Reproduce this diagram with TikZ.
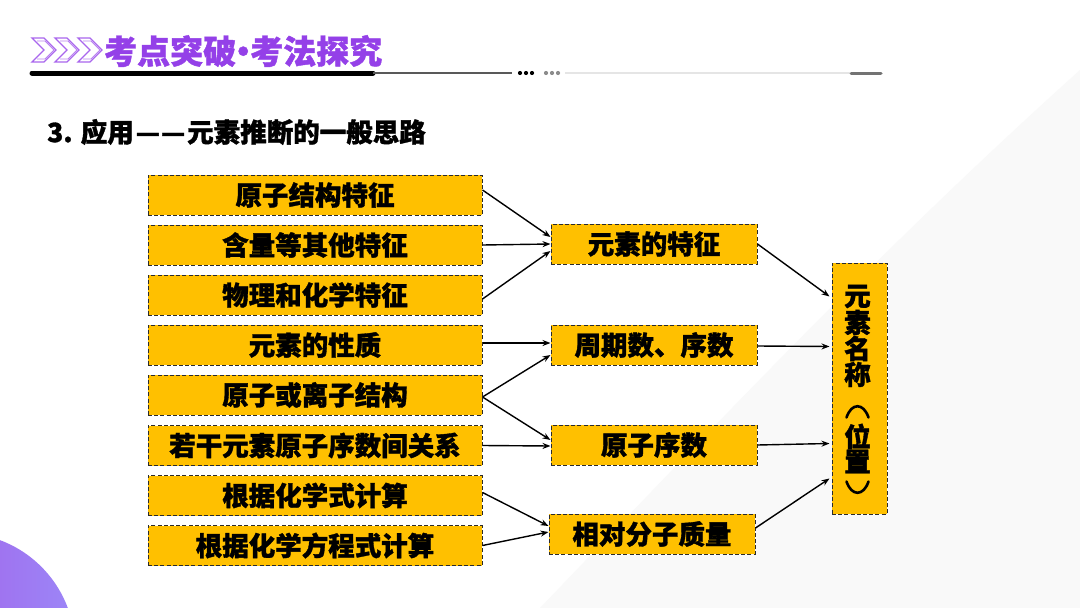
\documentclass[tikz,border=0pt]{standalone}
\usepackage{fontspec}
\setmainfont{Noto Sans CJK SC}[BoldFeatures={FakeBold=1.3}]
\usetikzlibrary{arrows.meta,calc}
\definecolor{amber}{HTML}{FFC000}
\definecolor{titlepurple}{HTML}{9440E8}
\definecolor{edgegray}{HTML}{2B2B2B}
\definecolor{circL}{HTML}{A54FE2}
\definecolor{circR}{HTML}{9C86F7}
\tikzset{
  lbox/.style={draw=edgegray, dash pattern=on 4pt off 2.2pt, line width=1pt, fill=amber,
    minimum width=334pt, minimum height=40pt, inner sep=0pt, font=\fontsize{26.5}{28}\selectfont\bfseries},
  mbox/.style={lbox, minimum width=206pt},
  vchar/.style={inner sep=0pt, font=\fontsize{26.5}{27}\selectfont\bfseries},
  vparen/.style={line width=2.6pt, line cap=round},
  arr/.style={line width=1.4pt, -{Stealth[length=8pt,width=6pt]}},
  chev/.style={draw=titlepurple!80, line width=1.3pt, line join=miter},
}
\begin{document}
\begin{tikzpicture}[x=1pt,y=-1pt]
\useasboundingbox (0,0) rectangle (1080,608);
\fill[white] (0,0) rectangle (1080,608);
% faint background shape
\fill[black!2.5] (540,608) .. controls (720,420) and (880,250) .. (1080,70) -- (1080,608) -- cycle;
% purple circle bottom-left
\begin{scope}
\clip (0,0) rectangle (1080,608);
\shade[left color=circL, right color=circR] (-40,648) circle (115);
\end{scope}
% header chevrons
\foreach \x in {32,55,78}{
  \draw[chev] (\x,38) -- (\x+12,38) -- (\x+24,50) -- (\x+12,62) -- (\x,62) -- (\x+12,50) -- cycle;
  \draw[titlepurple!65, line width=0.8pt] (\x+5,41) -- (\x+13,41) -- (\x+22,50) -- (\x+13,59) -- (\x+5,59);
}
\node[anchor=west, text=titlepurple, font=\fontsize{33}{34}\selectfont\bfseries, inner sep=0pt] (title) at (104,51) {考点突破\kern-9.5pt•\kern-9.5pt考法探究};
% header rule
\draw[line width=5pt, line cap=round] (32,73) -- (373,73);
\draw[black!65, line width=1.2pt] (373,73) -- (512,73);
\foreach \x in {520,526,532}{ \fill[black] (\x,73) circle (2.1); }
\foreach \x in {546,552,558}{ \fill[black!45] (\x,73) circle (2.1); }
\draw[black!10, line width=1.5pt] (565,73) -- (850,73);
\draw[black!55, line width=3pt, line cap=round] (851,73) -- (881,73);
% subtitle
\node[anchor=west, inner sep=0pt, font=\fontsize{26.5}{28}\selectfont\bfseries] (sub) at (47,132) {3. 应用\kern2pt—\kern1pt—\kern2pt元素推断的一般思路};
% left boxes
\node[lbox] (l1) at (315,195) {原子结构特征};
\node[lbox] (l2) at (315,245) {含量等其他特征};
\node[lbox] (l3) at (315,295) {物理和化学特征};
\node[lbox] (l4) at (315,345) {元素的性质};
\node[lbox] (l5) at (315,395) {原子或离子结构};
\node[lbox] (l6) at (315,445.5) {若干元素原子序数间关系};
\node[lbox] (l7) at (315,495.5) {根据化学式计算};
\node[lbox] (l8) at (315,545.5) {根据化学方程式计算};
% middle boxes
\node[mbox] (m1) at (654,244) {元素的特征};
\node[mbox] (m2) at (654,345) {周期数、序数};
\node[mbox] (m3) at (654,445) {原子序数};
\node[mbox] (m4) at (652,534) {相对分子质量};
% right box (vertical text)
\node[lbox, minimum width=55pt, minimum height=251pt] (r) at (859.5,388.5) {};
\node[vchar] (rc1) at ($(r.center)+(-2,-92)$) {元};
\node[vchar] (rc2) at ($(r.center)+(-2,-66)$) {素};
\node[vchar] (rc3) at ($(r.center)+(-2,-40)$) {名};
\node[vchar] (rc4) at ($(r.center)+(-2,-14)$) {称};
\node[vchar] (rc5) at ($(r.center)+(-2,48)$) {位};
\node[vchar] (rc6) at ($(r.center)+(-2,73)$) {置};
\draw[vparen] ($(r.center)+(-13,29)$) .. controls ($(r.center)+(-8,14)$) and ($(r.center)+(4,14)$) .. ($(r.center)+(9,29)$);
\draw[vparen] ($(r.center)+(-13,93)$) .. controls ($(r.center)+(-8,108)$) and ($(r.center)+(4,108)$) .. ($(r.center)+(9,93)$);
% arrows left -> middle
\draw[arr] ($(l1.east)+(0,-5)$) -- ($(m1.west)+(0,-7)$);
\draw[arr] (l2.east) -- (m1.west);
\draw[arr] ($(l3.east)+(0,4)$) -- ($(m1.west)+(0,7)$);
\draw[arr] ($(l4.east)+(0,-2)$) -- ($(m2.west)+(0,-2)$);
\draw[arr] ($(l5.east)+(0,2)$) -- ($(m2.west)+(0,10)$);
\draw[arr] ($(l5.east)+(0,2)$) -- ($(m3.west)+(0,-5)$);
\draw[arr] (l6.east) -- ($(m3.west)+(0,1)$);
\draw[arr] ($(l7.east)+(0,-3)$) -- ($(m4.west)+(0,-8)$);
\draw[arr] (l8.east) -- ($(m4.west)+(0,-2)$);
% arrows middle -> right
\draw[arr] (m1.east) -- ($(r.west)+(-2,-92)$);
\draw[arr] ($(m2.east)+(0,1)$) -- ($(r.west)+(-2,-42)$);
\draw[arr] (m3.east) -- ($(r.west)+(-2,55)$);
\draw[arr] ($(m4.east)+(0,-6)$) -- ($(r.west)+(-2,90)$);
\end{tikzpicture}
\end{document}
